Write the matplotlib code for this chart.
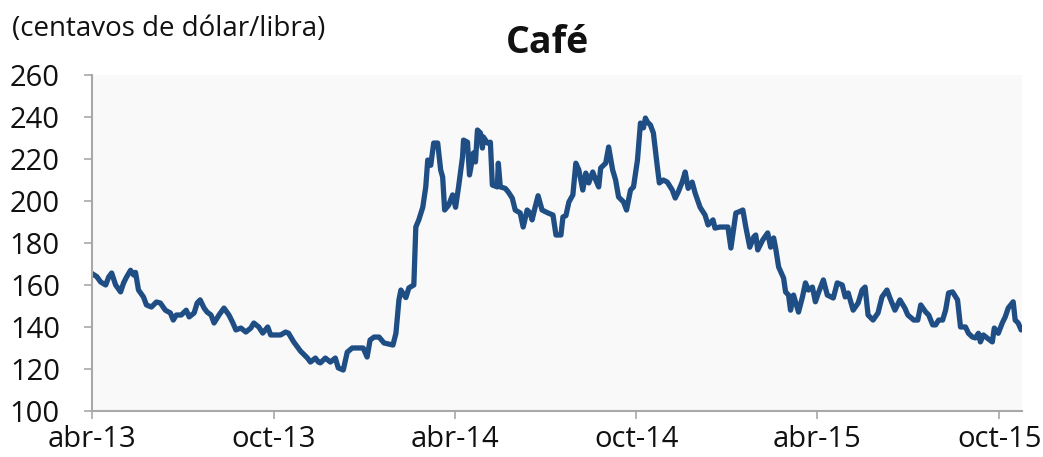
import matplotlib
matplotlib.use("Agg")
import matplotlib.pyplot as plt
import pandas as pd
import numpy as np

# Data: days elapsed since 2013-04-01 and coffee price (US cents per pound)
start_date = "2013-04-01"
days = [0, 5, 9, 14, 17, 20, 24, 29, 32, 35, 39, 42, 44, 47, 52, 55, 60, 65, 69, 74,
        79, 82, 85, 90, 95, 98, 103, 106, 109, 113, 116, 120, 123, 128, 133, 138, 142, 145, 150, 155,
        160, 163, 168, 172, 177, 180, 185, 190, 195, 198, 203, 210, 217, 220, 225, 228, 230, 235, 240, 245,
        248, 253, 257, 262, 273, 277, 280, 284, 289, 294, 303, 306, 309, 311, 313, 316, 319, 324, 326, 329,
        333, 336, 338, 341, 344, 348, 351, 353, 355, 359, 363, 366, 369, 373, 374, 378, 380, 384, 386, 388,
        391, 393, 394, 398, 401, 403, 408, 409, 411, 416, 419, 423, 426, 431, 434, 438, 441, 443, 446, 449,
        453, 459, 464, 467, 472, 474, 477, 480, 484, 487, 490, 494, 497, 500, 504, 507, 510, 512, 517, 520,
        524, 527, 530, 535, 538, 542, 545, 549, 552, 555, 557, 559, 562, 565, 569, 571, 575, 579, 584, 587,
        590, 594, 597, 600, 604, 607, 612, 617, 620, 625, 627, 632, 640, 643, 648, 651, 655, 658, 662, 666,
        668, 670, 675, 680, 683, 686, 688, 691, 696, 698, 701, 703, 706, 711, 715, 718, 721, 725, 728, 731,
        736, 740, 746, 750, 755, 758, 761, 766, 771, 775, 778, 781, 786, 791, 795, 800, 803, 808, 813, 818,
        821, 827, 831, 834, 839, 842, 846, 849, 852, 856, 859, 862, 866, 871, 874, 879, 882, 886, 889, 892,
        894, 897, 902, 906, 908, 912, 916, 919, 922, 927, 929, 932, 935]
prices = [165.5, 164.0, 161.4, 160.0, 163.8, 165.7, 160.0, 156.7, 161.0, 163.8, 167.0, 164.8, 166.0, 157.6, 154.3, 150.5, 149.5, 151.9, 151.4, 148.0,
          146.7, 143.3, 145.7, 145.7, 148.0, 144.8, 146.7, 151.4, 152.9, 149.0, 147.1, 145.7, 141.9, 145.7, 149.0, 145.7, 141.9, 138.6, 139.5, 137.6,
          139.5, 141.9, 140.0, 137.1, 140.0, 136.2, 136.2, 136.2, 137.6, 137.0, 133.0, 128.5, 125.2, 123.3, 125.2, 123.3, 122.9, 125.2, 123.3, 125.2,
          120.5, 119.5, 128.0, 130.0, 130.0, 125.7, 133.8, 135.2, 135.2, 132.4, 131.4, 137.0, 152.9, 157.6, 156.0, 154.0, 158.6, 160.0, 187.6, 191.0,
          197.0, 206.7, 219.5, 217.0, 227.6, 227.6, 214.8, 211.4, 195.7, 198.0, 202.9, 197.0, 206.7, 221.0, 229.0, 228.0, 212.4, 222.9, 218.6, 233.8,
          232.4, 225.2, 230.5, 227.6, 228.0, 207.6, 206.7, 218.0, 206.7, 206.0, 204.3, 201.4, 195.7, 194.3, 187.6, 195.7, 194.3, 191.0, 197.0, 202.5,
          195.7, 194.3, 193.3, 183.8, 183.8, 192.4, 193.0, 199.5, 202.9, 218.0, 214.8, 205.2, 213.3, 208.6, 213.8, 210.0, 206.7, 215.7, 218.0, 225.7,
          214.8, 210.0, 201.9, 199.5, 195.7, 205.2, 206.7, 219.5, 237.1, 234.8, 239.5, 237.6, 236.2, 232.4, 216.2, 208.6, 210.0, 209.0, 205.2, 201.4,
          204.3, 209.0, 213.8, 206.0, 209.0, 203.8, 197.0, 193.3, 188.6, 191.0, 187.1, 187.6, 187.6, 177.6, 194.3, 194.8, 195.7, 187.6, 178.0, 182.9,
          183.8, 176.7, 181.4, 184.8, 178.0, 182.4, 177.6, 168.6, 163.3, 156.7, 155.2, 148.0, 155.2, 147.1, 154.3, 161.0, 157.6, 159.0, 152.0, 156.2,
          162.4, 155.2, 153.8, 161.0, 160.0, 154.3, 156.2, 148.0, 151.4, 157.6, 159.0, 145.7, 143.3, 146.7, 154.3, 157.6, 153.8, 148.0, 152.9, 149.0,
          145.7, 143.3, 143.3, 150.5, 147.1, 145.7, 141.0, 141.0, 143.3, 143.3, 148.0, 156.2, 156.7, 152.9, 140.0, 140.0, 137.0, 135.2, 134.8, 137.0,
          132.9, 136.2, 134.3, 132.9, 139.5, 137.0, 141.9, 144.8, 149.0, 152.0, 143.3, 141.9, 138.6]

tick_dates = ["2013-04-01", "2013-10-01", "2014-04-01", "2014-10-01", "2015-04-01", "2015-10-01"]
tick_labels = ["abr-13", "oct-13", "abr-14", "oct-14", "abr-15", "oct-15"]
y_ticks = [100, 120, 140, 160, 180, 200, 220, 240, 260]

title = "Café"
unit_label = "(centavos de dólar/libra)"

plt.rcParams['font.family'] = ['Open Sans', 'DejaVu Sans']

dates = pd.Timestamp(start_date) + pd.to_timedelta(days, unit="D")

fig = plt.figure(figsize=(10.43, 4.57), dpi=100, facecolor="white")
ax = fig.add_axes([0.088, 0.1007, 0.892, 0.7352])
ax.set_facecolor("#F9F9F9")

ax.plot(dates, prices, color="#1F4E84", lw=3.8, solid_joinstyle="round", solid_capstyle="round")

ax.set_ylim(100, 260)
ax.set_yticks(y_ticks)
ax.set_xlim(pd.Timestamp(start_date), pd.Timestamp("2015-10-24"))
ax.set_xticks(pd.to_datetime(tick_dates))
ax.set_xticklabels(tick_labels)

for s in ["top", "right"]:
    ax.spines[s].set_visible(False)
for s in ["left", "bottom"]:
    ax.spines[s].set_color("#A8A8A8")
    ax.spines[s].set_linewidth(1.5)

ax.tick_params(axis="y", direction="out", length=6, width=1.2, color="#A8A8A8",
               labelsize=21, pad=17, labelcolor="#111111")
ax.tick_params(axis="x", direction="out", length=6, width=1.2, color="#A8A8A8",
               labelsize=21, pad=4, labelcolor="#111111")

fig.text(547 / 1043, 1 - 43 / 457, title, ha="center", va="center",
         fontsize=27, fontweight="bold", color="#111111")
fig.text(12 / 1043, 1 - 29 / 457, unit_label, ha="left", va="center",
         fontsize=20, color="#111111")

fig.savefig("out.png", dpi=100, facecolor="white")
